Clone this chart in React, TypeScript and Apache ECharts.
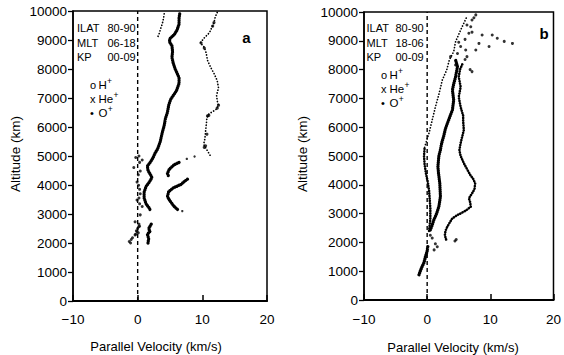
import React, { useEffect, useRef } from "react";
import * as echarts from "echarts";

// ---------- axis ----------
const xMin = -10;
const xMax = 20;
const xStep = 10;
const yMin = 0;
const yMax = 10000;
const yStep = 1000;

// ---------- panel texts ----------
const panelLetters = ["a", "b"];
const infoKeys = ["ILAT", "MLT", "KP"];
const infoA = ["80-90", "06-18", "00-09"];
const infoB = ["80-90", "18-06", "00-09"];
const legendMarks = ["o", "x", "\u2022"];
const legendIons = ["H", "He", "O"];
const xTitle = "Parallel Velocity (km/s)";
const yTitle = "Altitude (km)";

// ---------- panel a data [velocity km/s, altitude km]; null = gap ----------
const aHeTrace = [
  [6.5, 9900], [6.4, 9750], [6.4, 9550], [6.1, 9350], [5.7, 9200], [5.0, 9050], [4.9, 8950],
  [5.3, 8800], [5.4, 8600], [5.3, 8400], [5.5, 8200], [5.8, 8000], [6.1, 7850], [6.4, 7700],
  [6.4, 7500], [6.0, 7250], [5.1, 6950], [4.8, 6750], [4.6, 6500], [4.3, 6300], [4.1, 6050],
  [3.8, 5800], [3.5, 5500], [3.1, 5250], [2.7, 5100], [2.4, 4950], [2.0, 4800], [1.5, 4650],
  [1.6, 4500], [2.0, 4350], [2.2, 4250], [1.8, 4100], [1.3, 3950], [1.0, 3750], [1.0, 3550],
  [1.3, 3350], [1.8, 3200], [2.0, 3100],
  null,
  [2.1, 2650], [1.7, 2500], [1.9, 2400], [1.5, 2300], [1.7, 2150], [1.6, 2000],
];
const aHUpper = [
  [12.3, 9950], [12.0, 9800], [11.8, 9600], [11.4, 9400], [11.1, 9250], [10.2, 9050], [9.7, 8900],
  [10.3, 8750], [10.6, 8550], [10.8, 8300], [11.3, 8050], [11.8, 7850], [12.3, 7600], [12.5, 7350],
  [12.2, 7100], [12.3, 6900], [12.5, 6750], [12.1, 6600], [11.0, 6450], [10.7, 6300], [10.6, 6050],
  [10.5, 5850], [10.4, 5600], [10.2, 5400], [10.6, 5250], [11.0, 5100], [11.4, 4950],
];
const aHUpperBlobs = [
  [11.8, 9600], [11.6, 9480], [9.8, 8900], [10.3, 8720], [12.5, 6750], [12.3, 6650],
  [11.0, 6400], [10.8, 6380], [10.7, 5750], [10.5, 5350], [10.3, 5300],
];
const aHLower = [
  [6.4, 4780], [5.6, 4690], [4.9, 4550], [4.6, 4400], [4.8, 4290],
  null,
  [7.7, 4200], [7.2, 4120], [6.7, 4020], [5.5, 3900], [4.8, 3770], [4.6, 3600], [5.0, 3450],
  [5.6, 3270], [6.2, 3150],
];
const aHLowerDots = [[8.8, 4980], [7.6, 4900], [6.9, 3100]];
const aOUpper = [[4.1, 9900], [4.0, 9750], [3.8, 9550], [3.5, 9350], [3.3, 9200], [3.1, 9100]];
const aOLower = [
  [0.2, 5000], [-0.3, 4950], [0.7, 4860], [0.3, 4780], [-0.6, 4600], [0.4, 4480], [0.1, 4350],
  [-0.1, 4100], [0.15, 3990], [0.3, 3850], [0.4, 3700], [0.2, 3550], [-0.1, 3480], [0.3, 3350],
  [0.7, 3260], [0.4, 2970], [-0.4, 2730], [0.2, 2650], [0.3, 2580], [0.15, 2560], [0.0, 2500],
  [-0.2, 2420], [-0.1, 2390], [0.1, 2350], [-0.3, 2300], [-0.4, 2280], [-0.8, 2180],
  [-1.0, 2120], [-1.3, 2050], [-1.1, 2000],
];

// ---------- panel b data ----------
const bHTrace = [
  [3.0, 2100], [2.8, 2250], [2.9, 2400], [3.2, 2550], [3.6, 2700], [4.0, 2840], [4.8, 2950],
  [5.4, 3020], [6.1, 3100], [6.9, 3240], [6.8, 3400], [6.6, 3530], [7.1, 3700], [7.5, 3850],
  [7.6, 4050], [7.3, 4200], [6.8, 4350], [6.3, 4550], [5.8, 4750], [5.3, 5000], [5.1, 5200],
  [5.3, 5450], [5.8, 5900], [5.7, 6200], [5.7, 6400], [5.3, 6700], [5.0, 7050], [5.3, 7400],
  [5.0, 7750], [5.2, 8000], [5.6, 8200],
];
const bHDots = [
  [6.0, 8350], [6.3, 8450], [6.1, 8680], [7.7, 8680], [8.2, 8910], [8.7, 9200], [9.8, 8800],
  [10.3, 9200], [11.1, 9090], [12.2, 8980], [13.5, 8910], [6.6, 9260], [7.1, 9300], [6.3, 9550],
  [6.9, 9490], [7.1, 9720], [7.4, 9800], [7.7, 9900], [7.1, 7930], [6.8, 8000], [4.6, 2100],
  [4.4, 2050], [1.6, 1850], [1.1, 1740], [1.3, 1950], [0.8, 2150], [0.5, 2250], [4.8, 8560],
  [3.7, 8450], [4.5, 8160], [5.3, 8800], [5.0, 8950], [6.0, 9050],
];
const bHeTrace = [
  [0.5, 2430], [0.8, 2600], [1.06, 2780], [1.5, 3000], [1.85, 3240], [2.1, 3590], [2.0, 4050],
  [1.8, 4400], [1.7, 4630], [1.85, 5000], [2.1, 5210], [2.3, 5450], [2.6, 5670], [2.9, 5950],
  [3.4, 6250], [4.0, 6600], [4.2, 6940], [4.0, 7290], [4.2, 7500], [4.5, 7750], [4.8, 8100],
  [4.5, 8330],
  null,
  [0.1, 1850], [0.0, 1700], [-0.27, 1500], [-0.5, 1300], [-0.8, 1160], [-1.1, 1000], [-1.3, 870],
];
const bOLower = [
  [0.3, 2400], [0.5, 2800], [0.5, 3200], [0.4, 3500], [0.3, 3800], [0.1, 4100], [-0.2, 4400],
  [-0.4, 4700], [-0.5, 5000], [-0.4, 5300],
];
const bOUpper = [
  [-0.4, 5300], [0.0, 5600], [0.3, 5800], [0.8, 6250], [1.3, 6700], [1.9, 7180], [2.4, 7640],
  [3.1, 7990], [3.5, 8330], [4.2, 8620], [4.5, 8970], [5.3, 9375], [5.8, 9610], [6.2, 9800],
];
const zeroLine = [[0, 0], [0, 10000]];

const FONT = "Liberation Sans, Arial, Helvetica, sans-serif";

function segments(arr: (number[] | null)[]) {
  const out: number[][][] = [[]];
  for (const p of arr) {
    if (p === null) out.push([]);
    else out[out.length - 1].push(p);
  }
  return out.filter((s) => s.length > 1);
}

const BOLD = { width: 3.3, type: [0.1, 2.0] };
const MID = { width: 2.6, type: [0.1, 2.4] };
const THIN = { width: 1.7, type: [0.1, 2.8] };

function traceSeries(arr: (number[] | null)[], st: any, idx: number) {
  return segments(arr).map((seg) => ({
    type: "line",
    xAxisIndex: idx,
    yAxisIndex: idx,
    data: seg,
    symbol: "none",
    silent: true,
    lineStyle: { color: "#000", width: st.width, type: st.type, cap: "round", join: "round" },
  }));
}
function dotSeries(arr: number[][], size: number, idx: number) {
  return {
    type: "scatter",
    xAxisIndex: idx,
    yAxisIndex: idx,
    data: arr,
    symbolSize: size,
    silent: true,
    itemStyle: { color: "#000" },
  };
}
function zeroSeries(idx: number) {
  return {
    type: "line",
    xAxisIndex: idx,
    yAxisIndex: idx,
    data: zeroLine,
    symbol: "none",
    silent: true,
    lineStyle: { color: "#000", width: 1.4, type: [4, 3] },
  };
}

function txt(x: number, y: number, s: string, size = 11, extra: any = {}) {
  return {
    type: "text",
    x,
    y,
    silent: true,
    style: {
      text: s,
      fill: "#000",
      fontSize: size,
      fontFamily: FONT,
      align: "left",
      textAlign: "left",
      verticalAlign: "middle",
      textVerticalAlign: "middle",
      ...extra,
    },
  };
}

const ionWidth: Record<string, number> = { H: 0.722, He: 1.278, O: 0.778 };

function legendBlock(x: number, y0: number, dy: number) {
  const els: any[] = [];
  legendIons.forEach((ion, i) => {
    const y = y0 + i * dy;
    els.push(txt(x, y, legendMarks[i], 11));
    els.push(txt(x + 8.5, y, ion, 11.5));
    els.push(txt(x + 8.5 + ionWidth[ion] * 11.5 + 0.3, y - 4.5, "+", 8.5));
  });
  return els;
}
function infoBlock(x: number, xv: number, y0: number, dy: number, vals: string[]) {
  const els: any[] = [];
  infoKeys.forEach((k, i) => {
    els.push(txt(x, y0 + i * dy, k, 11));
    els.push(txt(xv, y0 + i * dy, vals[i], 11));
  });
  return els;
}

function xAxisCfg(idx: number, margin: number) {
  return {
    type: "value",
    gridIndex: idx,
    min: xMin,
    max: xMax,
    interval: xStep,
    axisLine: { show: true, onZero: false, lineStyle: { color: "#000", width: 2 } },
    axisTick: { show: true, inside: true, length: 6, lineStyle: { color: "#000", width: 1.5 } },
    splitLine: { show: false },
    axisLabel: {
      color: "#000",
      fontSize: 13.5,
      fontFamily: FONT,
      margin,
      formatter: (v: number) => (v < 0 ? "\u2212" + Math.abs(v) : String(v)),
    },
  };
}
function yAxisCfg(idx: number) {
  return {
    type: "value",
    gridIndex: idx,
    min: yMin,
    max: yMax,
    interval: yStep,
    axisLine: { show: true, onZero: false, lineStyle: { color: "#000", width: 1.5 } },
    axisTick: { show: true, inside: false, length: 5, lineStyle: { color: "#000", width: 1.3 } },
    splitLine: { show: false },
    axisLabel: {
      color: "#000",
      fontSize: 13.5,
      fontFamily: FONT,
      margin: 6,
      formatter: (v: number) => String(v),
    },
  };
}

export default function App() {
  const ref = useRef<HTMLDivElement>(null);
  useEffect(() => {
    if (!ref.current) return;
    const chart = echarts.init(ref.current, undefined, { renderer: "svg" });
    const option: any = {
      animation: false,
      backgroundColor: "#fff",
      grid: [
        { left: 73, top: 11, width: 194, height: 290, show: true, borderColor: "#000", borderWidth: 1.5 },
        { left: 364, top: 12, width: 192, height: 288, show: true, borderColor: "#000", borderWidth: 1.5 },
      ],
      xAxis: [xAxisCfg(0, 11), xAxisCfg(1, 12)],
      yAxis: [yAxisCfg(0), yAxisCfg(1)],
      series: [
        zeroSeries(0),
        zeroSeries(1),
        ...traceSeries(aHeTrace, BOLD, 0),
        ...traceSeries(aHUpper, THIN, 0),
        dotSeries(aHUpperBlobs, 3.2, 0),
        ...traceSeries(aHLower, BOLD, 0),
        dotSeries(aHLowerDots, 2.4, 0),
        ...traceSeries(aOUpper, THIN, 0),
        dotSeries(aOLower, 3, 0),
        ...traceSeries(bHTrace, MID, 1),
        dotSeries(bHDots, 3, 1),
        ...traceSeries(bHeTrace, BOLD, 1),
        ...traceSeries(bOLower, MID, 1),
        ...traceSeries(bOUpper, THIN, 1),
      ],
      graphic: [
        ...infoBlock(77, 107.5, 28, 14.5, infoA),
        ...legendBlock(90, 85, 14),
        ...infoBlock(366.5, 395.5, 28, 14.5, infoB),
        ...legendBlock(381, 75, 14),
        txt(246.5, 37, panelLetters[0], 15, { fontWeight: "bold", align: "center", textAlign: "center" }),
        txt(544, 33, panelLetters[1], 15, { fontWeight: "bold", align: "center", textAlign: "center" }),
        txt(156, 346.5, xTitle, 13, { align: "center", textAlign: "center" }),
        txt(453, 347, xTitle, 13, { align: "center", textAlign: "center" }),
        { ...txt(15, 154, yTitle, 13.5, { align: "center", textAlign: "center" }), rotation: Math.PI / 2 },
        { ...txt(302, 154, yTitle, 13.5, { align: "center", textAlign: "center" }), rotation: Math.PI / 2 },
      ],
    };
    chart.setOption(option);
    return () => chart.dispose();
  }, []);
  return (
    <div
      ref={ref}
      style={{ position: "fixed", left: 0, top: 0, width: 564, height: 355, background: "#fff" }}
    />
  );
}
